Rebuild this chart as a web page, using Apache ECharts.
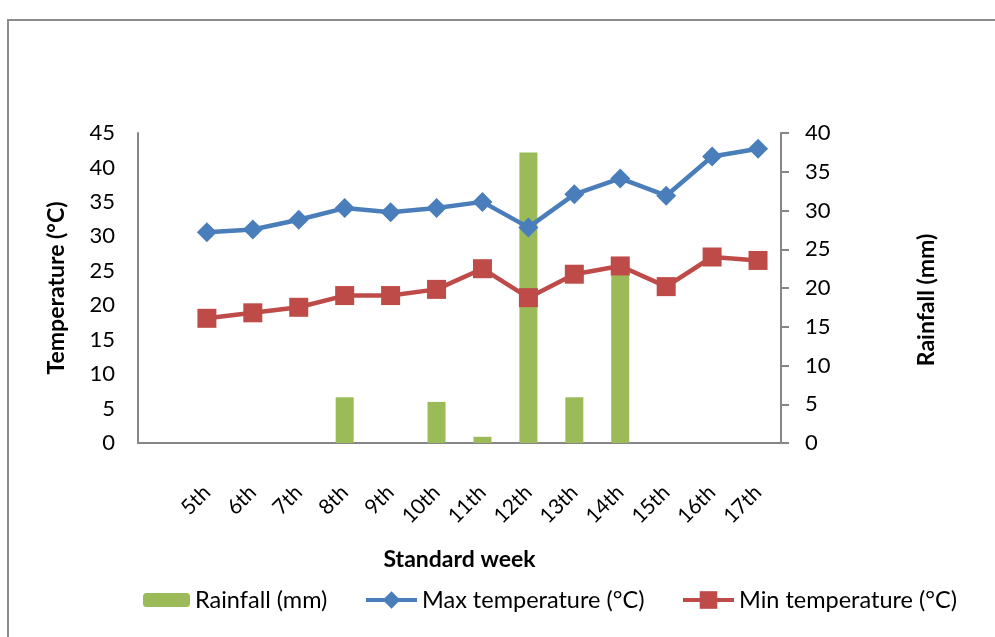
<!DOCTYPE html>
<html>
<head>
<meta charset="utf-8">
<script src="https://cdn.jsdelivr.net/npm/echarts@6/dist/echarts.min.js"></script>
<style>
html,body{margin:0;padding:0;background:#fff;}
#chart{width:995px;height:637px;}
</style>
</head>
<body>
<div id="chart"></div>
<script>
// ---- data ----
var weeks = ['5th','6th','7th','8th','9th','10th','11th','12th','13th','14th','15th','16th','17th'];
var rainfall = [0, 0, 0, 5.9, 0, 5.3, 0.8, 37.5, 5.9, 23.0, 0, 0, 0];
var maxTemp = [30.6, 31.0, 32.4, 34.1, 33.5, 34.1, 35.0, 31.3, 36.1, 38.4, 35.9, 41.6, 42.7];
var minTemp = [18.1, 18.9, 19.7, 21.4, 21.4, 22.3, 25.3, 21.1, 24.5, 25.7, 22.7, 27.0, 26.5];
var tempTicks = [0, 45, 5];   // min, max, interval
var rainTicks = [0, 40, 5];

// the reference's category axis starts with one empty slot before 5th
var cats = [''].concat(weeks);
function pad(a){ return [null].concat(a); }

var chart = echarts.init(document.getElementById('chart'));
var axisGray = '#868686';
var FONT = 'Lato, "Open Sans", sans-serif';
var tickFont = {fontFamily: FONT, fontSize: 22, color: '#000'};
var legendText = {fontFamily: FONT, fontSize: 23.5, color: '#000'};
var nameFont = {fontFamily: FONT, fontWeight: 'bold', fontSize: 23, color: '#000'};

chart.setOption({
  animation: false,
  backgroundColor: '#fff',
  graphic: [{
    type: 'rect', shape: {x: 8, y: 20, width: 1100, height: 800},
    style: {fill: 'none', stroke: '#8c8c8c', lineWidth: 2}, silent: true, z: -10
  }],
  grid: {left: 138, right: 214, top: 133, bottom: 194, containLabel: false},
  legend: [
    {data: ['Rainfall (mm)'], left: 138, top: 583, itemWidth: 47, itemHeight: 14, textStyle: legendText},
    {data: ['Max temperature (°C)'], left: 359, top: 583, itemWidth: 51, itemHeight: 22,
     lineStyle: {width: 4}, textStyle: legendText},
    {data: ['Min temperature (°C)'], left: 676, top: 583, itemWidth: 51, itemHeight: 22,
     lineStyle: {width: 4}, textStyle: legendText}
  ],
  xAxis: {
    type: 'category', data: cats, boundaryGap: true,
    axisLine: {lineStyle: {color: axisGray, width: 2}},
    axisTick: {show: false},
    axisLabel: Object.assign({rotate: 45, margin: 46, interval: 0}, tickFont, {fontSize: 21}),
    name: 'Standard week', nameLocation: 'middle', nameGap: 105,
    nameTextStyle: nameFont
  },
  yAxis: [
    {
      type: 'value', min: tempTicks[0], max: tempTicks[1], interval: tempTicks[2],
      axisLine: {show: true, lineStyle: {color: axisGray, width: 2}},
      axisTick: {show: false}, splitLine: {show: false},
      axisLabel: Object.assign({margin: 23}, tickFont),
      name: 'Temperature (°C)', nameLocation: 'middle', nameGap: 70, nameRotate: 90,
      nameTextStyle: nameFont
    },
    {
      type: 'value', position: 'right', min: rainTicks[0], max: rainTicks[1], interval: rainTicks[2],
      axisLine: {show: true, lineStyle: {color: axisGray, width: 2}},
      axisTick: {show: true, length: 8, lineStyle: {color: axisGray, width: 2}},
      splitLine: {show: false},
      axisLabel: Object.assign({margin: 24}, tickFont),
      name: 'Rainfall (mm)', nameLocation: 'middle', nameGap: 134, nameRotate: 90,
      nameTextStyle: Object.assign({padding: [0, 24, 0, 0]}, nameFont)
    }
  ],
  series: [
    {
      name: 'Rainfall (mm)', type: 'bar', yAxisIndex: 1, data: pad(rainfall),
      barWidth: 18, itemStyle: {color: '#9BBB59'}, z: 1
    },
    {
      name: 'Max temperature (°C)', type: 'line', yAxisIndex: 0, data: pad(maxTemp),
      symbol: 'diamond', symbolSize: 20, lineStyle: {color: '#4A7EBB', width: 4.5},
      itemStyle: {color: '#4A7EBB'}, z: 3
    },
    {
      name: 'Min temperature (°C)', type: 'line', yAxisIndex: 0, data: pad(minTemp),
      symbol: 'rect', symbolSize: 19, lineStyle: {color: '#BE4B48', width: 4.5},
      itemStyle: {color: '#BE4B48'}, z: 3
    }
  ]
});
</script>
</body>
</html>
